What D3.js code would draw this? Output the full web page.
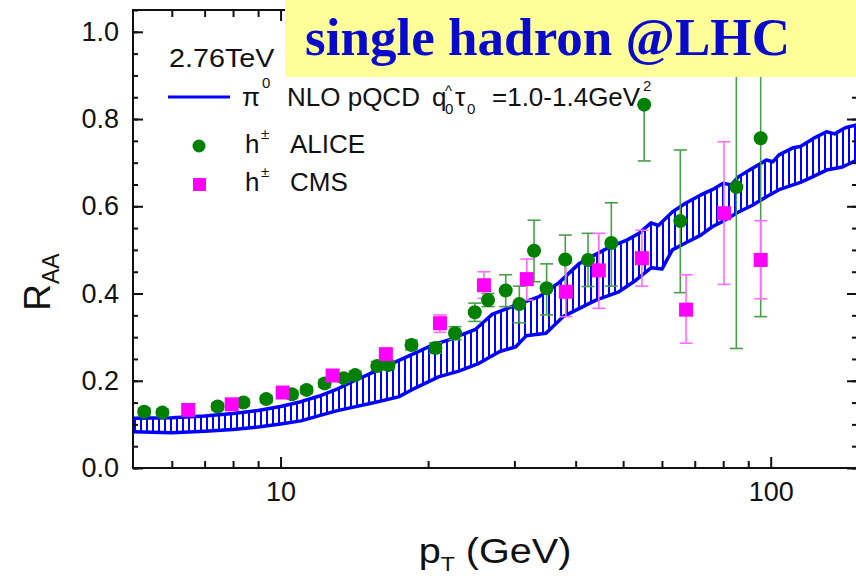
<!DOCTYPE html>
<html>
<head>
<meta charset="utf-8">
<script src="https://cdn.jsdelivr.net/npm/d3@7"></script>
<style>
  body { margin: 0; background: #fff; }
  svg { display: block; }
  text { font-family: "Liberation Sans", Arial, sans-serif; fill: #111; }
</style>
</head>
<body>
<svg id="chart" width="856" height="576"></svg>
<script>
// pi0 NLO pQCD band, upper and lower edge (pT in GeV, R_AA)
const bandUpperPt = [5, 6, 7, 8, 9, 10, 11, 12, 13, 14, 15, 16, 17.4, 19.2, 20.4, 22.4, 23.1, 25, 27, 30, 33.7, 37, 40.6, 43, 47, 51, 54, 57, 59, 63, 67, 72, 76, 80, 83, 86, 92, 98, 101, 104, 111, 115, 122, 130, 135, 142, 150];
const bandUpper   = [.114, .115, .119, .125, .132, .141, .152, .165, .18, .198, .213, .228, .246, .268, .282, .296, .303, .318, .352, .372, .393, .425, .468, .484, .507, .523, .539, .562, .556, .587, .607, .626, .638, .653, .649, .668, .688, .706, .702, .718, .734, .737, .755, .771, .766, .780, .787];
const bandLowerPt = [5, 6, 7, 8, 9, 10, 11, 12, 13, 14, 15.4, 17.4, 18.5, 21, 23.1, 25.4, 28, 30.2, 31.7, 34.8, 37.7, 44, 49, 53, 57, 60, 63, 67, 72, 76, 80, 86, 92, 98, 104, 115, 122, 130, 140, 150];
const bandLower   = [.083, .081, .084, .088, .094, .101, .108, .12, .131, .139, .149, .163, .179, .209, .222, .24, .267, .278, .303, .309, .347, .385, .404, .43, .459, .456, .5, .516, .534, .553, .566, .587, .603, .622, .638, .655, .668, .683, .69, .706];

// h+- ALICE
const alicePt = [5.27, 5.74, 7.44, 8.4, 9.35, 10.55, 11.3, 12.3, 13.45, 14.2, 15.75, 16.6, 18.5, 20.7, 22.7, 24.9, 26.5, 28.8, 30.7, 32.9, 34.9, 38.1, 42.4, 47.3, 55.2, 65.4, 85.1, 95.4];
const aliceR  = [.129, .127, .141, .150, .158, .169, .179, .194, .206, .213, .234, .236, .282, .275, .309, .357, .385, .407, .376, .498, .412, .478, .477, .516, .833, .566, .644, .756];
const aliceLo = [.121, .119, .133, .142, .150, .161, .171, .185, .197, .204, .224, .226, .271, .263, .294, .336, .370, .370, .333, .427, .351, .416, .416, .417, .704, .402, .274, .347];
const aliceHi = [.137, .135, .149, .158, .166, .177, .187, .203, .215, .222, .244, .246, .293, .287, .324, .378, .400, .443, .417, .568, .468, .534, .538, .608, .833, .729, 1.2, 1.2];

// h+- CMS
const cmsPt = [6.48, 7.95, 10.1, 12.77, 16.4, 21.15, 26.0, 31.8, 38.2, 44.6, 54.6, 67.2, 80.3, 95.4];
const cmsR  = [.133, .146, .173, .212, .261, .332, .419, .433, .404, .453, .481, .363, .584, .477];
const cmsLo = [.127, .140, .166, .204, .252, .311, .389, .385, .347, .366, .417, .286, .421, .388];
const cmsHi = [.139, .152, .180, .220, .270, .351, .450, .479, .470, .538, .545, .443, .748, .567];

const xTickLabels = [10, 100];
const xMinorTicks = [6, 7, 8, 9, 20, 30, 40, 50, 60, 70, 80, 90];
const yTickLabels = [0, 0.2, 0.4, 0.6, 0.8, 1.0];

const svg = d3.select("#chart");
const plotLeft = 133, plotRight = 857, plotTop = 10, plotBottom = 468;

const x = d3.scaleLog().domain([5, 150]).range([plotLeft, plotRight]);
const y = d3.scaleLinear().domain([0, 1.05]).range([plotBottom, plotTop]);

const blue = "#0000ff", green = "#008000", pink = "#ff00ff";

// hatch pattern for the band
const defs = svg.append("defs");
defs.append("pattern")
  .attr("id", "hatch").attr("patternUnits", "userSpaceOnUse")
  .attr("width", 6).attr("height", 10)
  .append("line")
  .attr("x1", 3).attr("x2", 3).attr("y1", 0).attr("y2", 10)
  .attr("stroke", blue).attr("stroke-width", 2);
defs.append("clipPath").attr("id", "plotclip")
  .append("rect").attr("x", plotLeft).attr("y", plotTop)
  .attr("width", plotRight - plotLeft).attr("height", plotBottom - plotTop);

const plot = svg.append("g").attr("clip-path", "url(#plotclip)");

// band
const upperPts = bandUpperPt.map((p, i) => [p, bandUpper[i]]);
const lowerPts = bandLowerPt.map((p, i) => [p, bandLower[i]]);
const line = d3.line().x(d => x(d[0])).y(d => y(d[1]));

plot.append("path")
  .attr("d", line(upperPts.concat(lowerPts.slice().reverse())) + "Z")
  .attr("fill", "url(#hatch)");
[upperPts, lowerPts].forEach(pts => {
  plot.append("path").attr("d", line(pts))
    .attr("fill", "none").attr("stroke", blue)
    .attr("stroke-width", 3.5).attr("stroke-linejoin", "round");
});

// error bars + markers
function errorBars(pt, lo, hi, color) {
  const g = plot.append("g").attr("stroke", color).attr("stroke-width", 1.6);
  pt.forEach((p, i) => {
    const cx = x(p);
    g.append("line").attr("x1", cx).attr("x2", cx).attr("y1", y(lo[i])).attr("y2", y(hi[i]));
    [lo[i], hi[i]].forEach(v => {
      g.append("line").attr("x1", cx - 6.5).attr("x2", cx + 6.5).attr("y1", y(v)).attr("y2", y(v));
    });
  });
}
errorBars(alicePt, aliceLo, aliceHi, "#4a9e4a");
errorBars(cmsPt, cmsLo, cmsHi, "#ff6cff");

plot.append("g").selectAll("circle")
  .data(alicePt).enter().append("circle")
  .attr("cx", d => x(d)).attr("cy", (d, i) => y(aliceR[i]))
  .attr("r", 7).attr("fill", green);

plot.append("g").selectAll("rect")
  .data(cmsPt).enter().append("rect")
  .attr("x", d => x(d) - 7).attr("y", (d, i) => y(cmsR[i]) - 7)
  .attr("width", 14).attr("height", 14).attr("fill", pink);

// axes (ticks point inward, mirrored on top and right)
const yMinor = d3.range(0, 1.051, 0.05);
function axisStyle(g) {
  g.select(".domain").remove();
  g.selectAll(".tick line").attr("stroke", "#111").attr("stroke-width", 2);
  g.selectAll(".tick text").attr("font-size", 27).style("fill", "#111")
    .style("font-family", "'Liberation Sans', Arial, sans-serif");
}
svg.append("g").attr("transform", `translate(0,${plotBottom})`)
  .call(d3.axisBottom(x).tickValues(xTickLabels).tickSize(-11).tickPadding(14).tickFormat(d3.format("d")))
  .call(axisStyle);
svg.append("g").attr("transform", `translate(0,${plotBottom})`)
  .call(d3.axisBottom(x).tickValues(xMinorTicks).tickSize(-7).tickFormat(""))
  .call(axisStyle);
svg.append("g").attr("transform", `translate(0,${plotTop})`)
  .call(d3.axisTop(x).tickValues(xTickLabels).tickSize(-11).tickFormat(""))
  .call(axisStyle);
svg.append("g").attr("transform", `translate(0,${plotTop})`)
  .call(d3.axisTop(x).tickValues(xMinorTicks).tickSize(-7).tickFormat(""))
  .call(axisStyle);

svg.append("g").attr("transform", `translate(${plotLeft},0)`)
  .call(d3.axisLeft(y).tickValues(yTickLabels).tickSize(-10).tickPadding(14).tickFormat(d3.format(".1f")))
  .call(axisStyle);
svg.append("g").attr("transform", `translate(${plotLeft},0)`)
  .call(d3.axisLeft(y).tickValues(yMinor).tickSize(-5).tickFormat(""))
  .call(axisStyle);
svg.append("g").attr("transform", `translate(${plotRight},0)`)
  .call(d3.axisRight(y).tickValues(yTickLabels).tickSize(-10).tickFormat(""))
  .call(axisStyle);
svg.append("g").attr("transform", `translate(${plotRight},0)`)
  .call(d3.axisRight(y).tickValues(yMinor).tickSize(-5).tickFormat(""))
  .call(axisStyle);

svg.append("rect")
  .attr("x", plotLeft).attr("y", plotTop).attr("width", plotRight - plotLeft).attr("height", plotBottom - plotTop)
  .attr("fill", "none").attr("stroke", "#111").attr("stroke-width", 2);

// text placed at (px,py), optionally stretched sideways
function label(parent, px, py, size, str, sx = 1) {
  return parent.append("text")
    .attr("transform", `translate(${px},${py}) scale(${sx},1)`)
    .attr("font-size", size).text(str);
}

// axis titles
const yt = svg.append("text").attr("transform", "translate(50,282) rotate(-90)")
  .attr("text-anchor", "middle").attr("font-size", 37);
yt.append("tspan").text("R");
yt.append("tspan").attr("font-size", 23).attr("dy", 9).text("AA");

const xt = label(svg, 495, 563, 36, null, 1.1).attr("text-anchor", "middle");
xt.append("tspan").text("p");
xt.append("tspan").attr("font-size", 21).attr("dy", 8).text("T");
xt.append("tspan").attr("dy", -8).text(" (GeV)");

// legend
const leg = svg.append("g");
label(leg, 169, 67, 25, "2.76TeV", 1.15);
leg.append("line").attr("x1", 168).attr("x2", 230).attr("y1", 97).attr("y2", 97)
  .attr("stroke", blue).attr("stroke-width", 3);
label(leg, 242, 106, 26, "π");
label(leg, 262, 88, 15, "0");
label(leg, 287, 106, 26, "NLO pQCD");
label(leg, 432, 106, 26, "q");
label(leg, 445, 114, 15, "0");
label(leg, 445, 96, 15, "^");
label(leg, 455, 106, 26, "τ");
label(leg, 467, 114, 15, "0");
label(leg, 492, 106, 26, "=1.0-1.4GeV");
label(leg, 643, 91, 15, "2");

leg.append("circle").attr("cx", 199).attr("cy", 146).attr("r", 6.5).attr("fill", green);
leg.append("rect").attr("x", 193).attr("y", 178).attr("width", 13).attr("height", 13).attr("fill", pink);
[[153, "ALICE"], [191, "CMS"]].forEach(([by, name]) => {
  label(leg, 245, by, 26, "h");
  label(leg, 261, by - 14, 15, "±");
  label(leg, 290, by, 26, name);
});

// title box
svg.append("rect").attr("x", 285).attr("y", 0).attr("width", 571).attr("height", 77).attr("fill", "#ffff99");
svg.append("text").attr("x", 305).attr("y", 55)
  .style("font-family", "'Liberation Serif', 'Times New Roman', serif")
  .attr("font-weight", "bold").attr("font-size", 52)
  .attr("textLength", 485).attr("lengthAdjust", "spacingAndGlyphs")
  .style("fill", "#0a0acc").text("single hadron @LHC");
</script>
</body>
</html>
